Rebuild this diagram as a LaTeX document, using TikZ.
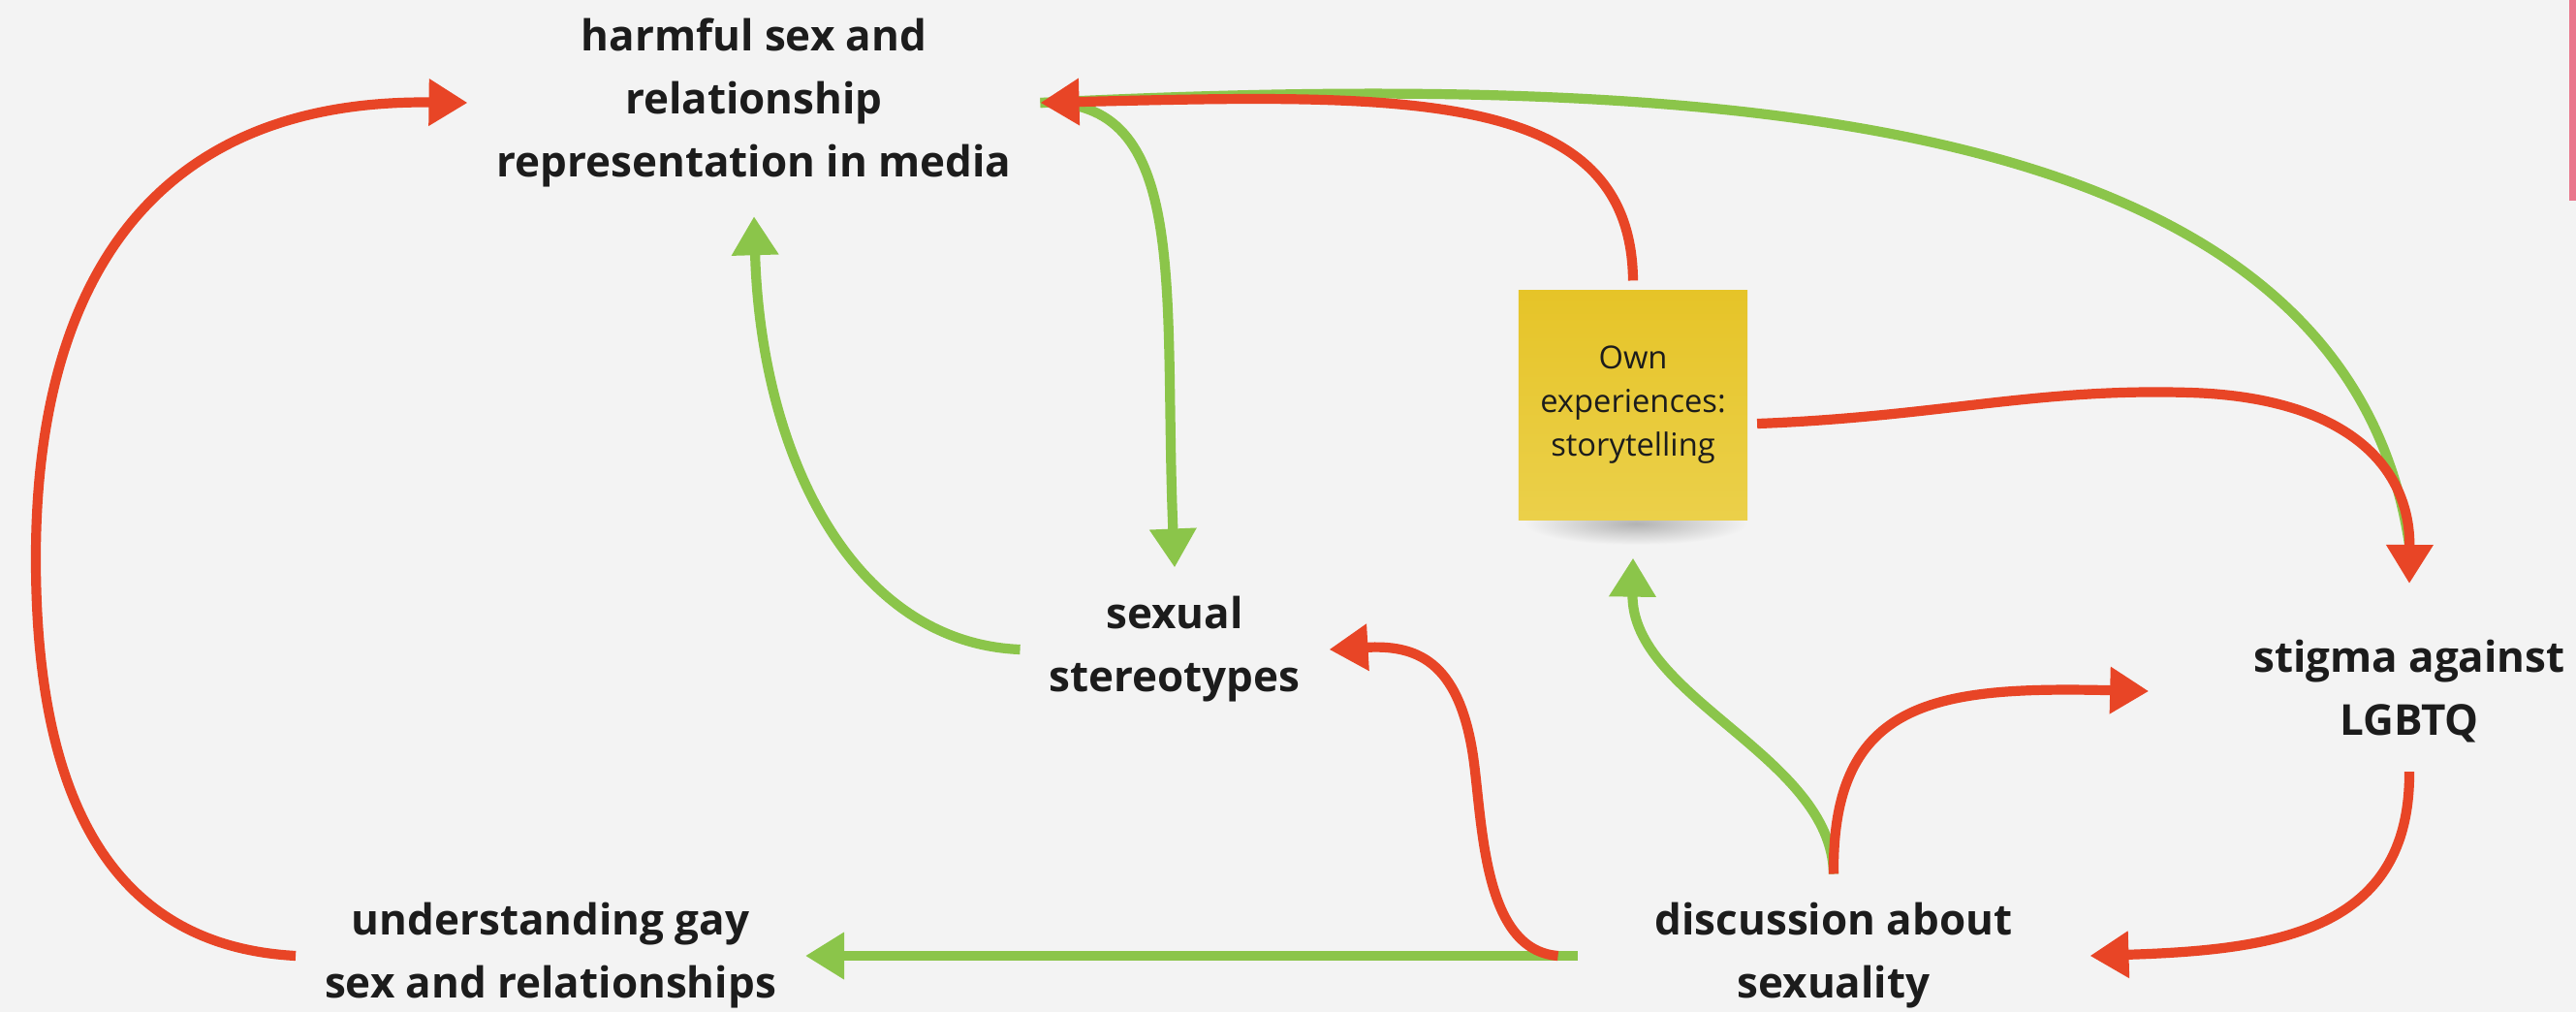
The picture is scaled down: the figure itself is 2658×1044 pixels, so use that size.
\documentclass[tikz,border=0pt]{standalone}
\usepackage{fontspec}
\setmainfont{Open Sans}
\usetikzlibrary{arrows.meta}

\definecolor{bgcol}{HTML}{F3F3F3}
\definecolor{redline}{HTML}{E84526}
\definecolor{greenline}{HTML}{8BC54A}
\definecolor{notetop}{HTML}{E6C428}
\definecolor{notebot}{HTML}{EBD04A}
\definecolor{inkcol}{HTML}{1C1C1C}
\definecolor{pinkstrip}{HTML}{E9768C}

\begin{document}
\begin{tikzpicture}[x=0.01cm, y=-0.01cm,
        concept/.style={align=center, text=inkcol, font=\fontsize{12.5}{18.5}\selectfont\bfseries, inner sep=0pt, outer sep=0.3cm},
        sticky/.style={align=center, text=inkcol, font=\fontsize{9.3}{12.8}\selectfont, minimum width=2.36cm, minimum height=2.37cm, inner sep=0pt, outer sep=0.1cm, top color=notetop, bottom color=notebot},
        redarrow/.style={draw=redline, line width=2.9pt, -{Triangle[length=0.4cm, width=0.46cm]}},
        greenarrow/.style={draw=greenline, line width=2.9pt, -{Triangle[length=0.4cm, width=0.46cm]}}]
        \useasboundingbox (0,0) rectangle (2658,1044);
        \fill[bgcol] (0,0) rectangle (2658,1044);
        \fill[pinkstrip] (2651,0) rectangle (2658,207);

        \node[concept] (media) at (778,106) {harmful sex and\\relationship\\representation in media};
        \node[concept] (stereo) at (1212,670) {sexual\\stereotypes};
        \node[concept] (stigma) at (2486,713) {stigma against\\LGBTQ};
        \node[concept, inner xsep=0.5cm] (talk) at (1892,986) {discussion about\\sexuality};
        \node[concept] (gay) at (568,986) {understanding gay\\sex and relationships};

        \shade[inner color=black!30, outer color=bgcol] (1688,540) ellipse [x radius=1.15cm, y radius=0.22cm];
        \node[sticky] (note) at (1685,418) {Own\\experiences:\\storytelling};

        \draw[greenarrow] (stereo.west) .. controls (880,663) and (785,470) .. (media.south);
        \draw[greenarrow] (media.east) .. controls (1230,100) and (1200,300) .. (stereo.north);
        \draw[draw=greenline, line width=2.9pt] (media.east) .. controls (1800,70) and (2420,120) .. ([yshift=0.68cm]stigma.north);
        \draw[greenarrow] (talk.north) .. controls (1890,780) and (1683,720) .. ([yshift=-0.29cm]note.south);
        \draw[greenarrow] (talk.west) -- (gay.east);

        \draw[redarrow] (gay.west) .. controls (100,975) and (37,800) .. (37,576) .. controls (37,300) and (150,102) .. (media.west);
        \draw[redarrow] (note.north) .. controls (1683,90) and (1450,97) .. (media.east);
        \draw[redarrow] ([yshift=-0.19cm]note.east) .. controls (2000,430) and (2100,400) .. (2260,405) .. controls (2420,410) and (2487,480) .. ([yshift=0.28cm]stigma.north);
        \draw[redarrow] (stigma.south) .. controls (2487,960) and (2350,980) .. (talk.east);
        \draw[redarrow] (talk.north) .. controls (1890,720) and (2000,708) .. ([xshift=-0.78cm]stigma.west);
        \draw[redarrow] ([xshift=-0.2cm]talk.west) .. controls (1530,980) and (1530,850) .. (1520,780) .. controls (1505,680) and (1460,665) .. (stereo.east);
      \end{tikzpicture}
\end{document}
